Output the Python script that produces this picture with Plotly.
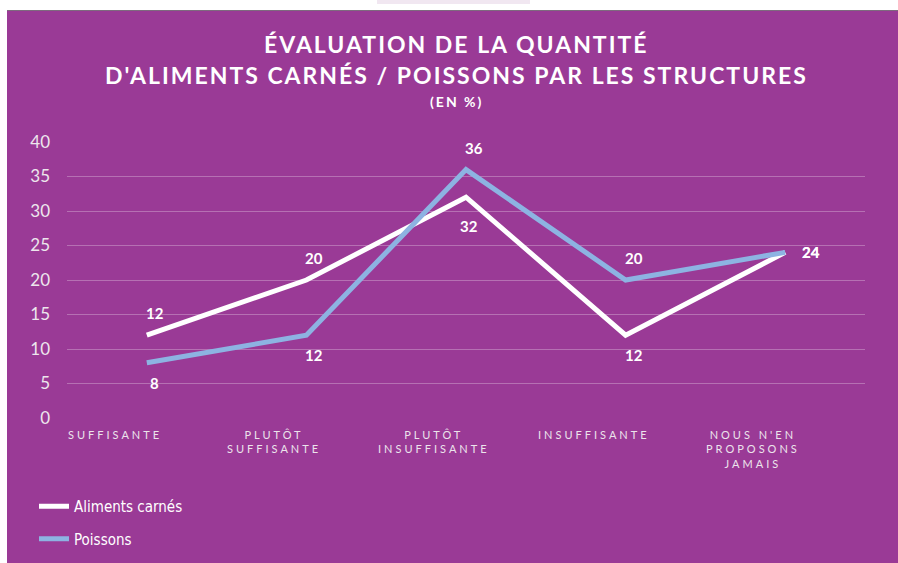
import plotly.graph_objects as go

categories = ["SUFFISANTE", "PLUTÔT<br>SUFFISANTE", "PLUTÔT<br>INSUFFISANTE",
              "INSUFFISANTE", "NOUS N'EN<br>PROPOSONS<br>JAMAIS"]
cat_ids = ["c0", "c1", "c2", "c3", "c4"]
aliments = [12, 20, 32, 12, 24]
poissons = [8, 12, 36, 20, 24]
series_names = ["Aliments carnés", "Poissons"]
ytick_vals = [0, 5, 10, 15, 20, 25, 30, 35, 40]

# label placement (style): 'a' above, 'b' below, 'B' further below, 'r' right
aliments_pos = ["a", "a", "B", "b", "r"]
poissons_pos = ["b", "b", "a", "a", "r"]

PURPLE = "#9A3A96"
WHITE = "#FFFFFF"
BLUE = "#8DB3E2"
GRID = "rgba(255,255,255,0.28)"

W, H = 898, 563
L, R, T, B = 67, 33, 142, 145
PW, PH = W - L - R, H - T - B

def px_x(px):
    return (px - L) / PW

def px_y(py):
    return (H - B - py) / PH

fig = go.Figure()
fig.add_trace(go.Scatter(x=cat_ids, y=aliments, mode="lines", name=series_names[0],
                         line=dict(color=WHITE, width=5), legendgroup="a"))
fig.add_trace(go.Scatter(x=cat_ids, y=poissons, mode="lines", name=series_names[1],
                         line=dict(color=BLUE, width=5), legendgroup="b"))

annotations = []
shift = {"a": (8, 22), "b": (8, -20), "B": (3, -29), "r": (26, 0)}
for vals, poss in ((aliments, aliments_pos), (poissons, poissons_pos)):
    for cid, v, p in zip(cat_ids, vals, poss):
        xs, ys = shift[p]
        annotations.append(dict(x=cid, y=v, xref="x", yref="y", text="<b>%d</b>" % v,
                                showarrow=False, xshift=xs, yshift=ys,
                                font=dict(family="Lato", size=15, color=WHITE)))

for cid, lab in zip(cat_ids, categories):
    annotations.append(dict(x=cid, y=0, xref="x", yref="paper", yanchor="top",
                            text='<span style="letter-spacing:3px">%s</span>' % lab,
                            showarrow=False, xshift=-32, yshift=-8,
                            font=dict(family="Lato", size=11, color="#ECE4EC")))

title_lines = [("ÉVALUATION DE LA QUANTITÉ", 44, 23, 2),
               ("D'ALIMENTS CARNÉS / POISSONS PAR LES STRUCTURES", 75, 23, 2),
               ("(EN %)", 101, 14, 2)]
for txt, py, sz, ls in title_lines:
    annotations.append(dict(x=px_x(456), y=px_y(py), xref="paper", yref="paper",
                            text='<b><span style="letter-spacing:%dpx">%s</span></b>' % (ls, txt),
                            showarrow=False, xanchor="center", yanchor="middle",
                            font=dict(family="Lato", size=sz, color=WHITE)))

shapes = [
    dict(type="rect", xref="paper", yref="paper", x0=-0.2, x1=1.2,
         y0=px_y(10), y1=px_y(-20), fillcolor=WHITE, line=dict(width=0), layer="above"),
    dict(type="rect", xref="paper", yref="paper", x0=px_x(377), x1=px_x(530),
         y0=px_y(4), y1=px_y(-20), fillcolor="#F1E7F1", line=dict(width=0), layer="above"),
    dict(type="line", xref="paper", yref="paper", x0=px_x(7), x1=1.2,
         y0=px_y(10.5), y1=px_y(10.5), line=dict(color="#7E6A7E", width=1.2), layer="above"),
    dict(type="rect", xref="paper", yref="paper", x0=-0.2, x1=px_x(7),
         y0=-1, y1=2, fillcolor=WHITE, line=dict(width=0), layer="above"),
]

fig.update_layout(
    width=W, height=H,
    margin=dict(l=L, r=R, t=T, b=B, autoexpand=False),
    paper_bgcolor=PURPLE, plot_bgcolor=PURPLE,
    showlegend=True,
    legend=dict(x=px_x(34), y=px_y(490), xanchor="left", yanchor="top",
                orientation="v", traceorder="grouped", tracegroupgap=10,
                font=dict(family="Liberation Sans Narrow, DejaVu Sans Condensed, Lato",
                          size=15, color=WHITE),
                bgcolor="rgba(0,0,0,0)", itemwidth=30),
    xaxis=dict(type="category", categoryorder="array", categoryarray=cat_ids,
               range=[-0.5, 4.5], showgrid=False, showticklabels=False,
               zeroline=False, showline=False, fixedrange=True),
    yaxis=dict(range=[0, 40], tickvals=ytick_vals, showgrid=True, gridcolor=GRID,
               gridwidth=1, zeroline=False, showline=False,
               tickfont=dict(family="Lato", size=17, color="#EDE6ED"),
               ticklabelstandoff=16, fixedrange=True),
    annotations=annotations,
    shapes=shapes,
)

fig.write_html("out.html", config={"displayModeBar": False},
               post_script="document.body.style.margin='0';")
